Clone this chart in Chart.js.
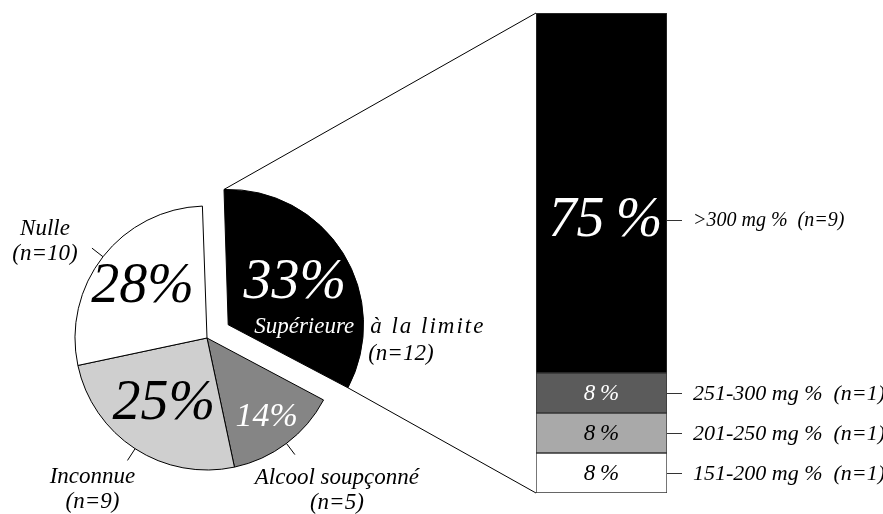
<!DOCTYPE html>
<html>
<head>
<meta charset="utf-8">
<script src="https://cdn.jsdelivr.net/npm/chart.js@4"></script>
<style>
  body { margin: 0; background: #fff; }
  #wrap { position: relative; width: 883px; height: 514px; }
  #wrap canvas { position: absolute; left: 0; top: 0; }
</style>
</head>
<body>
<div id="wrap">
  <canvas id="pieCanvas" width="883" height="514"></canvas>
  <canvas id="barCanvas" width="883" height="514"></canvas>
</div>
<script>
// pie: alcoholemia categories (clockwise from top)
const pieCategories = ['Supérieure à la limite', 'Alcool soupçonné', 'Inconnue', 'Nulle'];
const pieCounts = [12, 5, 9, 10];
const piePercents = ['33%', '14%', '25%', '28%'];
const pieColors = ['#000000', '#858585', '#cfcfcf', '#ffffff'];

// stacked bar: breakdown of the "above the limit" slice (bottom to top)
const barCategories = ['151-200 mg %', '201-250 mg %', '251-300 mg %', '>300 mg %'];
const barCounts = [1, 1, 1, 9];
const barPercents = ['8\u2009%', '8\u2009%', '8\u2009%', '75\u2009%'];
const barColors = ['#ffffff', '#a9a9a9', '#5b5b5b', '#000000'];

const serif = '"Liberation Serif", "DejaVu Serif", serif';

// geometry of the exploded slice the way ArcElement draws it
function arcShape(a) {
  const t = (a.options.offset || 0) / 4;
  const h = (a.startAngle + a.endAngle) / 2;
  const alpha = a.endAngle - a.startAngle;
  const fix = 1 - Math.sin(Math.min(Math.PI, alpha));
  const ro = t * fix;
  const R = a.outerRadius + ro;
  const beta = Math.max(0.001, alpha * R - ro / Math.PI) / R;
  const off = (alpha - beta) / 2;
  return {
    cx: a.x + Math.cos(h) * t,
    cy: a.y + Math.sin(h) * t,
    r: R, mid: h,
    start: a.startAngle + off,
    end: a.endAngle - off
  };
}

const pieLabels = {
  id: 'pieLabels',
  afterDatasetsDraw(chart) {
    const ctx = chart.ctx;
    const arcs = chart.getDatasetMeta(0).data;
    const dist = [0.58, 0.75, 0.6, 0.62];
    const sizes = [56, 34, 56, 56];
    const inks = ['#fff', '#fff', '#000', '#000'];
    // outer text offsets from the end of each leader line
    const outer = [null, [42, 23], [-35, 17], [-47, -19]];
    ctx.save();
    ctx.textAlign = 'center';
    ctx.textBaseline = 'middle';
    arcs.forEach((a, i) => {
      const s = arcShape(a);
      const px = s.cx + Math.cos(s.mid) * s.r * dist[i];
      const py = s.cy + Math.sin(s.mid) * s.r * dist[i];
      ctx.fillStyle = inks[i];
      ctx.font = 'italic ' + sizes[i] + 'px ' + serif;
      ctx.fillText(piePercents[i], px, py);

      ctx.font = 'italic 23px ' + serif;
      if (i === 0) {
        const cut = pieCategories[0].indexOf(' ');
        ctx.fillStyle = '#fff';
        ctx.fillText(pieCategories[0].slice(0, cut), s.cx + 76, s.cy + 2);
        ctx.fillStyle = '#000';
        ctx.textAlign = 'left';
        ctx.letterSpacing = '2px';
        ctx.fillText(pieCategories[0].slice(cut + 1), s.cx + 142, s.cy + 2);
        ctx.letterSpacing = '0px';
        ctx.fillText('(n=' + pieCounts[0] + ')', s.cx + 140, s.cy + 29);
        ctx.textAlign = 'center';
        return;
      }
      const x1 = s.cx + Math.cos(s.mid) * s.r;
      const y1 = s.cy + Math.sin(s.mid) * s.r;
      const x2 = s.cx + Math.cos(s.mid) * (s.r + 14);
      const y2 = s.cy + Math.sin(s.mid) * (s.r + 14);
      ctx.strokeStyle = '#000';
      ctx.lineWidth = 1;
      ctx.beginPath();
      ctx.moveTo(x1, y1);
      ctx.lineTo(x2, y2);
      ctx.stroke();
      ctx.fillStyle = '#000';
      const o = outer[i];
      ctx.fillText(pieCategories[i], x2 + o[0], y2 + o[1]);
      ctx.fillText('(n=' + pieCounts[i] + ')', x2 + o[0], y2 + o[1] + 25);
    });
    ctx.restore();
  }
};

const barLabels = {
  id: 'barLabels',
  afterDatasetsDraw(chart) {
    const ctx = chart.ctx;
    const labelAt = [0.5, 0.5, 0.5, 0.575];
    const sizes = [23, 23, 23, 56];
    const inks = ['#000', '#000', '#fff', '#fff'];
    const sideSizes = [22, 22, 22, 20];
    ctx.save();
    ctx.textBaseline = 'middle';
    let left = 0, top = 0, bottom = 0;
    barCategories.forEach((c, i) => {
      const el = chart.getDatasetMeta(i).data[0];
      const y = el.y + (el.base - el.y) * labelAt[i];
      const right = el.x + el.width / 2;
      left = el.x - el.width / 2;
      if (i === 0) bottom = el.base;
      if (i === barCategories.length - 1) top = el.y;
      ctx.fillStyle = inks[i];
      ctx.textAlign = 'center';
      ctx.font = 'italic ' + sizes[i] + 'px ' + serif;
      ctx.fillText(barPercents[i], el.x + (i === 3 ? 4 : 0), y + 1);
      ctx.strokeStyle = '#333';
      ctx.lineWidth = 1;
      ctx.beginPath();
      ctx.moveTo(right, Math.round(y) + 0.5);
      ctx.lineTo(right + 15, Math.round(y) + 0.5);
      ctx.stroke();
      ctx.fillStyle = '#000';
      ctx.textAlign = 'left';
      ctx.font = 'italic ' + sideSizes[i] + 'px ' + serif;
      ctx.fillText(c + '  (n=' + barCounts[i] + ')', right + 26, y + 1);
    });
    // connectors from the exploded slice to the bar
    const s = arcShape(pieChart.getDatasetMeta(0).data[0]);
    ctx.strokeStyle = '#000';
    ctx.lineWidth = 1;
    ctx.beginPath();
    ctx.moveTo(s.cx + Math.cos(s.start) * s.r, s.cy + Math.sin(s.start) * s.r);
    ctx.lineTo(left, top);
    ctx.moveTo(s.cx + Math.cos(s.end) * s.r, s.cy + Math.sin(s.end) * s.r);
    ctx.lineTo(left, bottom);
    ctx.stroke();
    ctx.restore();
  }
};

const pieChart = new Chart(document.getElementById('pieCanvas'), {
  type: 'pie',
  data: {
    labels: pieCategories,
    datasets: [{
      data: pieCounts,
      backgroundColor: pieColors,
      borderColor: '#000',
      borderWidth: 1,
      offset: [100, 0, 0, 0]
    }]
  },
  options: {
    responsive: false,
    animation: false,
    devicePixelRatio: 1,
    rotation: -2,
    radius: 132,
    layout: { padding: { left: 0, right: 469, top: 162, bottom: 0 } },
    plugins: { legend: { display: false }, tooltip: { enabled: false } }
  },
  plugins: [pieLabels]
});

new Chart(document.getElementById('barCanvas'), {
  type: 'bar',
  data: {
    labels: [''],
    datasets: barCategories.map((c, i) => ({
      label: c,
      data: [barCounts[i]],
      backgroundColor: barColors[i],
      borderColor: '#333',
      borderWidth: 1,
      borderSkipped: false,
      barPercentage: 1,
      categoryPercentage: 1
    }))
  },
  options: {
    responsive: false,
    animation: false,
    devicePixelRatio: 1,
    layout: { padding: { left: 536, right: 216, top: 13, bottom: 21 } },
    scales: {
      x: { stacked: true, display: false },
      y: { stacked: true, display: false, min: 0, max: 12 }
    },
    plugins: { legend: { display: false }, tooltip: { enabled: false } }
  },
  plugins: [barLabels]
});
</script>
</body>
</html>
